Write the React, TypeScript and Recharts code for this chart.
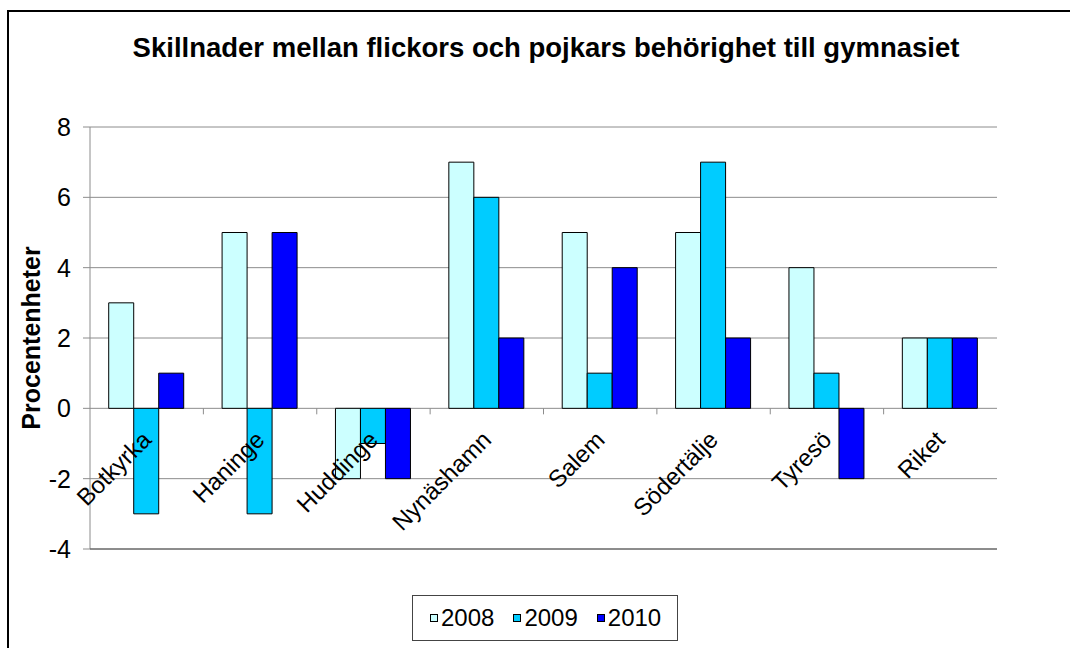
import React from 'react';
import {
  BarChart,
  Bar,
  XAxis,
  YAxis,
  CartesianGrid,
  Legend,
} from 'recharts';

// kommuner
const categories = [
  'Botkyrka',
  'Haninge',
  'Huddinge',
  'Nynäshamn',
  'Salem',
  'Södertälje',
  'Tyresö',
  'Riket',
];

// procentenheter per år
const values2008 = [3, 5, -2, 7, 5, 5, 4, 2];
const values2009 = [-3, -3, -1, 6, 1, 7, 1, 2];
const values2010 = [1, 5, -2, 2, 4, 2, -2, 2];

const yTicks = [-4, -2, 0, 2, 4, 6, 8];

const series = [
  { key: '2008', color: '#CCFFFF' },
  { key: '2009', color: '#00CCFF' },
  { key: '2010', color: '#0000FF' },
];

const data = categories.map((name, i) => ({
  name,
  '2008': values2008[i],
  '2009': values2009[i],
  '2010': values2010[i],
}));

const FONT = '"Liberation Sans", Arial, sans-serif';
const CHART_W = 1040;
const CHART_H = 640;
const AXIS_W = 60;
const XAXIS_H = 30;
const MARGIN = { top: 115, right: 52, left: 21, bottom: 73 };
const PLOT_W = CHART_W - MARGIN.left - AXIS_W - MARGIN.right;
const PLOT_H = CHART_H - MARGIN.top - MARGIN.bottom - XAXIS_H;
const Y_MIN = yTicks[0];
const Y_MAX = yTicks[yTicks.length - 1];

// kategorietiketter vid nollinjen, som i Excel
const CategoryTick = (props: any) => {
  const { x, payload } = props;
  const zeroY = MARGIN.top + (PLOT_H * Y_MAX) / (Y_MAX - Y_MIN);
  const band = PLOT_W / categories.length;
  const tx = x + 6;
  const ty = zeroY + 33;
  return (
    <g>
      {payload.index > 0 && (
        <line
          x1={x - band / 2}
          x2={x - band / 2}
          y1={zeroY}
          y2={zeroY + 6}
          stroke="#8c8c8c"
        />
      )}
      <text
        x={tx}
        y={ty}
        textAnchor="end"
        fontSize={24}
        fontFamily={FONT}
        fill="#000"
        transform={`rotate(-45, ${tx}, ${ty})`}
      >
        {payload.value}
      </text>
    </g>
  );
};

const YLabel = (props: any) => {
  const { viewBox } = props;
  const cx = viewBox.x + 10;
  const cy = viewBox.y + viewBox.height / 2;
  return (
    <text
      x={cx}
      y={cy}
      textAnchor="middle"
      fontSize={25}
      fontWeight="bold"
      fontFamily={FONT}
      fill="#000"
      transform={`rotate(-90, ${cx}, ${cy})`}
    >
      Procentenheter
    </text>
  );
};

const LegendBox = () => (
  <div
    style={{
      boxSizing: 'border-box',
      width: 266,
      height: 46,
      border: '1px solid #444',
      background: '#fff',
      display: 'flex',
      alignItems: 'center',
      paddingLeft: 17,
      fontFamily: FONT,
      fontSize: 24,
      color: '#000',
    }}
  >
    {series.map((s) => (
      <span key={s.key} style={{ display: 'flex', alignItems: 'center', marginRight: 19 }}>
        <span
          style={{
            width: 6,
            height: 6,
            border: '1px solid #000',
            background: s.color,
            marginRight: 3,
          }}
        />
        {s.key}
      </span>
    ))}
  </div>
);

export default function App() {
  return (
    <div
      style={{
        position: 'absolute',
        left: 7,
        top: 10,
        width: 1200,
        height: 700,
        borderLeft: '2px solid #000',
        borderTop: '2px solid #000',
        fontFamily: FONT,
        background: '#fff',
      }}
    >
      <div
        style={{
          position: 'absolute',
          left: 0,
          top: 21,
          width: 1074,
          textAlign: 'center',
          fontSize: 27.5,
          lineHeight: '30px',
          fontWeight: 'bold',
        }}
      >
        Skillnader mellan flickors och pojkars behörighet till gymnasiet
      </div>
      <BarChart
        width={CHART_W}
        height={CHART_H}
        data={data}
        margin={MARGIN}
        barGap={0}
        barCategoryGap="16.5%"
      >
        <CartesianGrid horizontal vertical={false} stroke="#8c8c8c" />
        <YAxis
          domain={[Y_MIN, Y_MAX]}
          ticks={yTicks}
          width={AXIS_W}
          tickSize={7}
          tickMargin={12}
          axisLine={{ stroke: '#8c8c8c' }}
          tickLine={{ stroke: '#8c8c8c' }}
          tick={{ fill: '#000', fontSize: 25, fontFamily: FONT }}
          label={{ content: YLabel }}
        />
        <YAxis
          yAxisId="right"
          orientation="right"
          width={0}
          tick={false}
          tickLine={false}
          axisLine={{ stroke: '#555' }}
        />
        <Legend
          layout="horizontal"
          verticalAlign="middle"
          align="center"
          content={<LegendBox />}
          wrapperStyle={{ left: 403, top: 583, width: 266, height: 46 }}
        />
        {series.map((s) => (
          <Bar
            key={s.key}
            dataKey={s.key}
            fill={s.color}
            stroke="#000"
            strokeWidth={1}
            isAnimationActive={false}
          />
        ))}
        <XAxis
          dataKey="name"
          height={XAXIS_H}
          interval={0}
          tickLine={false}
          axisLine={{ stroke: '#555' }}
          tick={<CategoryTick />}
        />
      </BarChart>
    </div>
  );
}
